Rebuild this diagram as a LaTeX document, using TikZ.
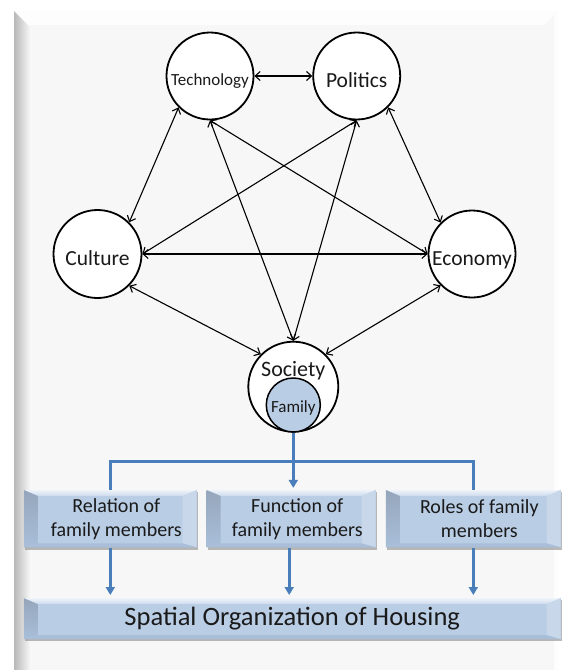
\documentclass[tikz,border=0pt]{standalone}
\usepackage{fontspec}
\setmainfont{Carlito}
\usetikzlibrary{arrows.meta,shadows}
\definecolor{panelc}{HTML}{F7F7F7}
\definecolor{paneltop}{HTML}{FDFDFD}
\definecolor{boxface}{HTML}{B9CDE5}
\definecolor{bevtopA}{HTML}{EEF3FA}
\definecolor{bevtopB}{HTML}{CCDAEC}
\definecolor{bevleft}{HTML}{A2B8D4}
\definecolor{bevright}{HTML}{C8D7EA}
\definecolor{bevbot}{HTML}{A9BED8}
\definecolor{famfill}{HTML}{B9CDE5}
\definecolor{blueln}{HTML}{4A7EBB}
\definecolor{txt}{HTML}{1A1A1A}
\tikzset{
  topic/.style={circle, draw=black, line width=1.8pt, fill=white, inner sep=0pt,
    minimum size=87pt, font=\fontsize{21.5}{24}\selectfont, text=txt,
    text height=22pt, text depth=0pt},
  link/.style={draw=black, line width=1.1pt,
    {Straight Barb[length=5pt,width=9pt]}-{Straight Barb[length=5pt,width=9pt]}},
  blueline/.style={draw=blueln, line width=2.8pt},
  bluearrow/.style={draw=blueln, line width=2.8pt, -{Triangle[length=8pt,width=9pt]}},
  bevelbox/.style={rectangle, fill=boxface, inner sep=0pt, text=txt,
    drop shadow={shadow xshift=1.2pt, shadow yshift=-2.2pt, fill=black!45, opacity=0.6},
    path picture={
      \coordinate (bnw) at (path picture bounding box.north west);
      \coordinate (bne) at (path picture bounding box.north east);
      \coordinate (bsw) at (path picture bounding box.south west);
      \coordinate (bse) at (path picture bounding box.south east);
      \shade[top color=bevtopA, bottom color=bevtopB] (bnw) -- (bne) -- ([shift={(-14pt,-6pt)}]bne) -- ([shift={(14pt,-6pt)}]bnw) -- cycle;
      \shade[top color=bevleft!85!black!90, bottom color=bevleft!70!boxface] (bnw) -- ([shift={(14pt,-6pt)}]bnw) -- ([shift={(14pt,4pt)}]bsw) -- (bsw) -- cycle;
      \fill[bevright] (bne) -- ([shift={(-14pt,-6pt)}]bne) -- ([shift={(-14pt,4pt)}]bse) -- (bse) -- cycle;
      \fill[bevbot] (bsw) -- (bse) -- ([shift={(-14pt,4pt)}]bse) -- ([shift={(14pt,4pt)}]bsw) -- cycle;
    }},
  smallbox/.style={bevelbox, minimum height=57.3pt, align=center,
    font=\fontsize{20}{24}\selectfont},
}
\begin{document}
\begin{tikzpicture}[x=1pt,y=-1pt]
\useasboundingbox (0,0) rectangle (568,670);
% background panel
\fill[white] (0,0) rectangle (568,670);
\fill[panelc] (14,11) rectangle (558,670);
\fill[paneltop] (14,11) -- (558,11) -- (544,25) -- (28,25) -- cycle;
\fill[paneltop] (558,11) -- (558,670) -- (554,670) -- (554,15) -- cycle;
\shade[left color=black!28, right color=panelc] (14,11) -- (30,27) -- (30,670) -- (14,670) -- cycle;

% topic circles
\node[topic, font=\fontsize{17}{20}\selectfont, text height=18pt] (tech) at (210,76) {Technology};
\node[topic, text height=23pt] (pol) at (356.7,76) {Politics};
\node[topic, minimum size=88pt] (cult) at (97.5,254) {Culture};
\node[topic] (econ) at (472,254) {Economy};
\node[topic, minimum size=90pt] (soc) at (293.3,386.7) {};
\node[font=\fontsize{22}{24}\selectfont, text=txt, inner sep=0pt] (soctext) at (293.3,371) {Society};
\node[circle, draw=black, line width=1.5pt, fill=famfill, inner sep=0pt,
      minimum size=54pt, font=\fontsize{17}{20}\selectfont, text=txt,
      text height=15pt, text depth=0pt] (fam) at (293.3,405) {Family};

% links
\draw[link] (tech.east) -- (pol.west);
\draw[link] (tech.south west) -- (cult.north east);
\draw[link] (pol.south east) -- (econ.north west);
\draw[link] (cult.east) -- (econ.west);
\draw[link] (cult.east) -- (pol.south);
\draw[link] (tech.south) -- (econ.west);
\draw[link] (tech.south) -- (soc.north);
\draw[link] (pol.south) -- (soc.north);
\draw[link] (cult.south east) -- (soc.north west);
\draw[link] (econ.south west) -- (soc.north east);

% boxes
\node[smallbox, minimum width=172.7pt] (box1) at (110.3,518.7) {\hspace*{12pt}Relation of\\\hspace*{12pt}family members};
\node[smallbox, minimum width=169pt] (box2) at (291.2,518.7) {\hspace*{12pt}Function of\\\hspace*{12pt}family members};
\node[smallbox, minimum width=174.7pt] (box3) at (473.3,518.7) {\hspace*{12pt}Roles of family\\\hspace*{12pt}members};
\node[bevelbox, minimum width=536.7pt, minimum height=41pt,
      font=\fontsize{26.5}{30}\selectfont] (house) at (292.3,618.7) {Spatial Organization of Housing};

% blue connectors
\coordinate (j) at (293.3,461.7);
\draw[blueline] (fam.south) -- (j);
\draw[blueline, line join=miter] (box1.north) |- (j) -| (box3.north);
\draw[bluearrow] (j) -- ([yshift=2pt]j |- box2.north);
\draw[bluearrow] (box1.south) -- ([yshift=3pt]box1.south |- house.north);
\draw[bluearrow] ([xshift=-2pt]box2.south) -- ([xshift=-2pt,yshift=3pt]box2.south |- house.north);
\draw[bluearrow] (box3.south) -- ([yshift=3pt]box3.south |- house.north);
\end{tikzpicture}
\end{document}
